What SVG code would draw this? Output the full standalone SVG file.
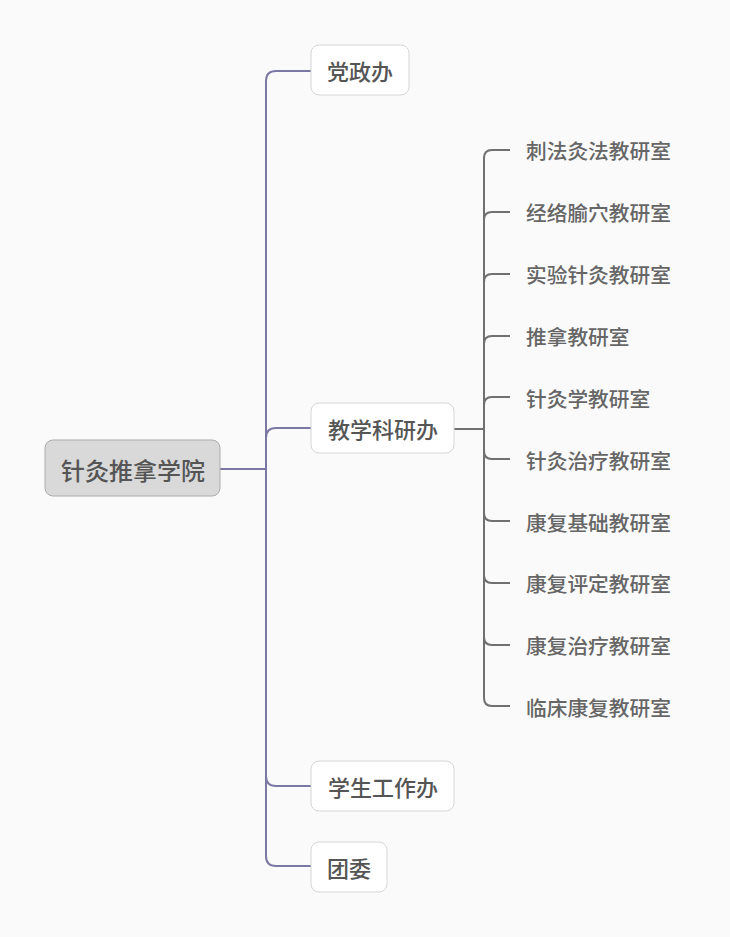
<svg xmlns="http://www.w3.org/2000/svg" width="730" height="937" viewBox="0 0 730 937">
<style>
.bg{fill:#fafafa}
.l1{fill:none;stroke:#7b78a3;stroke-width:2}
.l2{fill:none;stroke:#707070;stroke-width:2}
.root rect{fill:#d9d9d9;stroke:#ababab;stroke-width:1}
.root text{font-family:"Noto Sans CJK SC","Liberation Sans",sans-serif;font-size:24px;font-weight:500;fill:#555;text-anchor:middle;dominant-baseline:central}
.n1 rect{fill:#ffffff;stroke:#d6d6d6;stroke-width:1}
.n1 text{font-family:"Noto Sans CJK SC","Liberation Sans",sans-serif;font-size:22px;font-weight:500;fill:#555;text-anchor:middle;dominant-baseline:central}
.n2 text{font-family:"Noto Sans CJK SC","Liberation Sans",sans-serif;font-size:20.7px;font-weight:500;fill:#666;dominant-baseline:central}
</style>
<rect class="bg" x="0" y="0" width="730" height="937"/>
<g id="connectors">
<path class="l1" d="M220 469 H266"/>
<path class="l1" d="M311 71 H276 Q266 71 266 81 V856 Q266 866 276 866 H311"/>
<path class="l1" d="M311 428 H276 Q266 428 266 438"/>
<path class="l1" d="M311 786 H276 Q266 786 266 776"/>
<path class="l2" d="M454 429 H484"/>
<path class="l2" d="M510 150 H492 Q484 150 484 158 V698 Q484 706 492 706 H510"/>
<path class="l2" d="M510 212 H492 Q484 212 484 220"/>
<path class="l2" d="M510 274 H492 Q484 274 484 282"/>
<path class="l2" d="M510 336 H492 Q484 336 484 344"/>
<path class="l2" d="M510 397 H492 Q484 397 484 405"/>
<path class="l2" d="M510 459 H492 Q484 459 484 451"/>
<path class="l2" d="M510 521 H492 Q484 521 484 513"/>
<path class="l2" d="M510 583 H492 Q484 583 484 575"/>
<path class="l2" d="M510 645 H492 Q484 645 484 637"/>
</g>
<g id="root" class="root"><rect x="45" y="440" width="175" height="56" rx="8"/><text x="133" y="469">针灸推拿学院</text></g>
<g id="n-dangzheng" class="n1"><rect x="311" y="45" width="98" height="50" rx="8"/><text x="360" y="70">党政办</text></g>
<g id="n-jiaoxue" class="n1"><rect x="311" y="403" width="143" height="50" rx="8"/><text x="383" y="428">教学科研办</text></g>
<g id="n-xuesheng" class="n1"><rect x="311" y="761" width="143" height="50" rx="8"/><text x="383" y="786">学生工作办</text></g>
<g id="n-tuanwei" class="n1"><rect x="311" y="842" width="76" height="50" rx="8"/><text x="349" y="867">团委</text></g>
<g id="s1" class="n2"><text x="526" y="150">刺法灸法教研室</text></g>
<g id="s2" class="n2"><text x="526" y="212">经络腧穴教研室</text></g>
<g id="s3" class="n2"><text x="526" y="274">实验针灸教研室</text></g>
<g id="s4" class="n2"><text x="526" y="336">推拿教研室</text></g>
<g id="s5" class="n2"><text x="526" y="398">针灸学教研室</text></g>
<g id="s6" class="n2"><text x="526" y="460">针灸治疗教研室</text></g>
<g id="s7" class="n2"><text x="526" y="522">康复基础教研室</text></g>
<g id="s8" class="n2"><text x="526" y="583">康复评定教研室</text></g>
<g id="s9" class="n2"><text x="526" y="645">康复治疗教研室</text></g>
<g id="s10" class="n2"><text x="526" y="707">临床康复教研室</text></g>
</svg>
